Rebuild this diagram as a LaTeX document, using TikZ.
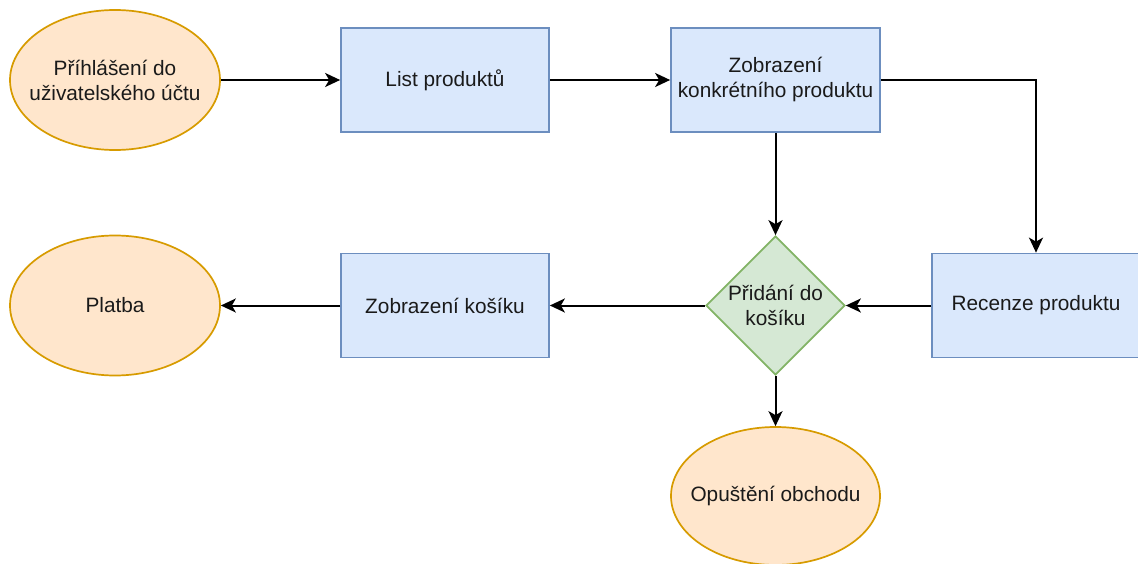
\documentclass[tikz,border=0pt]{standalone}
\usepackage{fontspec}
\setmainfont{Liberation Sans}
\usetikzlibrary{shapes.geometric,arrows.meta}
\definecolor{elfill}{HTML}{FFE6CC}
\definecolor{eldraw}{HTML}{D79B00}
\definecolor{bxfill}{HTML}{DAE8FC}
\definecolor{bxdraw}{HTML}{6C8EBF}
\definecolor{dmfill}{HTML}{D5E8D4}
\definecolor{dmdraw}{HTML}{82B366}
\definecolor{txt}{HTML}{1A1A1A}
\begin{document}
\begin{tikzpicture}[x=1pt,y=1pt,
  base/.style={font=\fontsize{20.8}{25}\selectfont, text=txt, align=center, line width=1.7pt, inner sep=0pt},
  oval/.style={base, ellipse, fill=elfill, draw=eldraw, minimum width=210pt, minimum height=140pt},
  box/.style={base, rectangle, fill=bxfill, draw=bxdraw, minimum width=208pt, minimum height=104pt},
  dec/.style={base, diamond, fill=dmfill, draw=dmdraw, minimum width=139pt, minimum height=139pt},
  lbl/.style={base, draw=none, fill=none},
  conn/.style={line width=2pt, -{Stealth[length=15pt,width=14pt,inset=4pt]}}]
\useasboundingbox (0,0) rectangle (1138,-564);
\node[oval] (login) at (115,-80) {};
\node[lbl] (logintxt) at (login) {Příhlášení do\\uživatelského účtu};
\node[box] (list) at (445,-80) {List produktů};
\node[box, minimum width=209pt] (detail) at (775.5,-80) {Zobrazení\\konkrétního produktu};
\node[dec] (add) at (775.5,-305.5) {};
\node[lbl] (addtxt) at (add) {Přidání do\\košíku};
\node[box] (review) at (1036,-305.5) {Recenze produktu};
\node[box] (cart) at (445,-305.5) {Zobrazení košíku};
\node[oval] (pay) at (115,-305.5) {};
\node[lbl] (paytxt) at (pay) {Platba};
\node[oval, minimum width=209pt, minimum height=138pt] (leave) at (775.5,-496) {};
\node[lbl] (leavetxt) at (leave) {Opuštění obchodu};
\draw[conn] (login.east) -- (list.west);
\draw[conn] (list.east) -- (detail.west);
\draw[conn] (detail.east) -| (review.north);
\draw[conn] (detail.south) -- (add.north);
\draw[conn] (review.west) -- (add.east);
\draw[conn] (add.west) -- (cart.east);
\draw[conn] (cart.west) -- (pay.east);
\draw[conn] (add.south) -- (leave.north);
\end{tikzpicture}
\end{document}
